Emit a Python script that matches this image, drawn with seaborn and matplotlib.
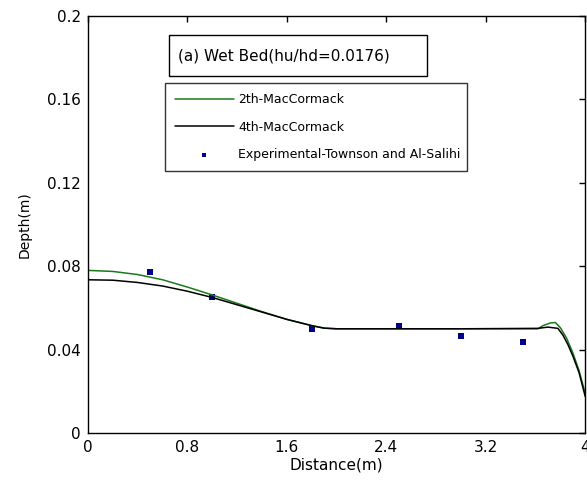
import pandas as pd
import matplotlib
matplotlib.use('Agg')
import matplotlib.pyplot as plt
from matplotlib.patches import Rectangle
import seaborn as sns

# 2th MacCormack
x_2th = [0.0, 0.2, 0.4, 0.6, 0.8, 1.0, 1.2, 1.4, 1.6, 1.8, 1.9, 2.0, 3.0, 3.62, 3.66, 3.72, 3.76, 3.8, 3.85, 3.9, 3.95, 4.0]
y_2th = [0.0780, 0.0775, 0.0760, 0.0735, 0.0700, 0.0662, 0.0622, 0.0582, 0.0545, 0.0515, 0.0503, 0.0500, 0.0500, 0.0500, 0.0515, 0.0528, 0.0530, 0.0505, 0.0455, 0.0385, 0.0300, 0.0190]

# 4th MacCormack
x_4th = [0.0, 0.2, 0.4, 0.6, 0.8, 1.0, 1.2, 1.4, 1.6, 1.8, 1.9, 2.0, 3.0, 3.62, 3.7, 3.78, 3.82, 3.86, 3.9, 3.95, 4.0]
y_4th = [0.0735, 0.0733, 0.0722, 0.0705, 0.0680, 0.0650, 0.0615, 0.0580, 0.0545, 0.0515, 0.0503, 0.0500, 0.0500, 0.0502, 0.0508, 0.0502, 0.0470, 0.0425, 0.0370, 0.0290, 0.0175]

# Experimental - Townson and Al-Salihi
x_exp = [0.5, 1.0, 1.8, 2.5, 3.0, 3.5]
y_exp = [0.0770, 0.0654, 0.0500, 0.0515, 0.0465, 0.0438]

df_2th = pd.DataFrame({'Distance': x_2th, 'Depth': y_2th})
df_4th = pd.DataFrame({'Distance': x_4th, 'Depth': y_4th})
df_exp = pd.DataFrame({'Distance': x_exp, 'Depth': y_exp})

sns.set_style('white')
plt.rcParams['font.family'] = ['DejaVu Sans']
plt.rcParams['text.color'] = 'black'
plt.rcParams['axes.labelcolor'] = 'black'
plt.rcParams['xtick.color'] = 'black'
plt.rcParams['ytick.color'] = 'black'

fig = plt.figure(figsize=(5.87, 4.86), dpi=100)
ax = fig.add_axes([0.150, 0.109, 0.847, 0.858])

sns.lineplot(data=df_2th, x='Distance', y='Depth', color='#1a7a1a', lw=1.1, label='2th-MacCormack', ax=ax)
sns.lineplot(data=df_4th, x='Distance', y='Depth', color='black', lw=1.1, label='4th-MacCormack', ax=ax)
sns.scatterplot(data=df_exp, x='Distance', y='Depth', color='#00008b', marker='s', s=18, linewidth=0,
                label='Experimental-Townson and Al-Salihi', ax=ax)

ax.set_xlim(0, 4)
ax.set_ylim(0, 0.2)
ax.set_xticks([0, 0.8, 1.6, 2.4, 3.2, 4])
ax.set_xticklabels(['0', '0.8', '1.6', '2.4', '3.2', '4'])
ax.set_yticks([0, 0.04, 0.08, 0.12, 0.16, 0.2])
ax.set_yticklabels(['0', '0.04', '0.08', '0.12', '0.16', '0.2'])
ax.tick_params(direction='in', length=4, width=1, top=True, right=True, labelsize=11, pad=5)
ax.set_xlabel('Distance(m)', fontsize=11, labelpad=2)
ax.set_ylabel('Depth(m)', fontsize=10, labelpad=11)
for s in ax.spines.values():
    s.set_color('black')
    s.set_linewidth(1)

leg = ax.legend(loc='upper left', bbox_to_anchor=(0.155, 0.623, 0.608, 0.216), mode='expand',
                fontsize=9, frameon=True, fancybox=False, edgecolor='black', borderpad=0.8,
                labelspacing=1.15, handlelength=4.7, handletextpad=0.35, markerscale=0.8,
                borderaxespad=0)
leg.get_frame().set_linewidth(1)

ax.add_patch(Rectangle((0.163, 0.856), 0.519, 0.098, transform=ax.transAxes, facecolor='white',
                       edgecolor='black', linewidth=1, zorder=5))
ax.text(0.181, 0.905, '(a) Wet Bed(hu/hd=0.0176)', transform=ax.transAxes, fontsize=11,
        va='center', ha='left', zorder=6)

fig.savefig('out.png', dpi=100)
